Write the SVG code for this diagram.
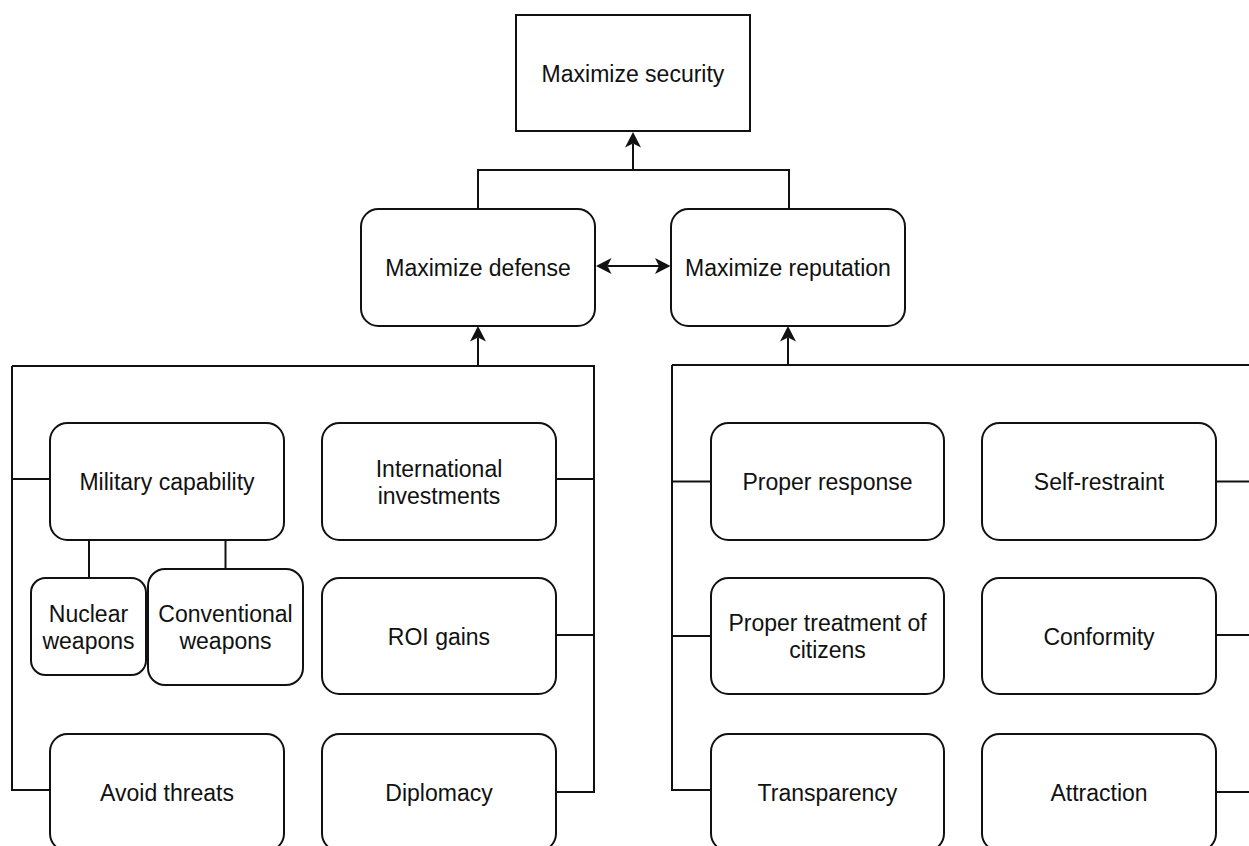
<svg xmlns="http://www.w3.org/2000/svg" width="1249" height="846" viewBox="0 0 1249 846">
  <style>
    .box { fill: #ffffff; stroke: #111111; stroke-width: 2; }
    .lbl { font-family: "Liberation Sans", Arial, Helvetica, sans-serif; font-size: 23px; fill: #111111; text-anchor: middle; }
    .wire { fill: none; stroke: #111111; stroke-width: 2; }
  </style>
  <defs>
    <!-- classic block arrowhead, anchored at its notch -->
    <marker id="arrow" viewBox="-17 -9 17 18" refX="-11.5" refY="0" markerWidth="17" markerHeight="18" markerUnits="userSpaceOnUse" orient="auto-start-reverse">
      <path d="M0,0 L-15.5,-8 L-11.5,0 L-15.5,8 Z" fill="#111111"/>
    </marker>
  </defs>

  <rect width="1249" height="846" fill="#ffffff"/>

  <!-- connectors -->
  <g id="connectors">
    <!-- defense / reputation up to security -->
    <path class="wire" d="M478,209 V170 H789 V209"/>
    <path class="wire" d="M633,170 V143.5" marker-end="url(#arrow)"/>
    <!-- defense <-> reputation -->
    <path class="wire" d="M607.5,266 H659" marker-start="url(#arrow)" marker-end="url(#arrow)"/>

    <!-- defense branch -->
    <path class="wire" d="M12,366 V790 H50"/>
    <path class="wire" d="M12,479 H50"/>
    <path class="wire" d="M12,366 H594 V792 H556"/>
    <path class="wire" d="M556,479 H594"/>
    <path class="wire" d="M556,635 H594"/>
    <path class="wire" d="M478,366 V337.5" marker-end="url(#arrow)"/>
    <path class="wire" d="M89,540 V578"/>
    <path class="wire" d="M225.5,540 V569"/>

    <!-- reputation branch -->
    <path class="wire" d="M672,365 V790 H711"/>
    <path class="wire" d="M672,481.5 H711"/>
    <path class="wire" d="M672,636 H711"/>
    <path class="wire" d="M672,365 H1256 V792 H1216"/>
    <path class="wire" d="M1216,481.5 H1256"/>
    <path class="wire" d="M1216,635 H1256"/>
    <path class="wire" d="M788,365 V337.5" marker-end="url(#arrow)"/>
  </g>

  <!-- nodes -->
  <g id="maximize-security">
    <rect class="box" x="516" y="15" width="234" height="116"/>
    <text class="lbl" x="633" y="81.5">Maximize security</text>
  </g>
  <g id="maximize-defense">
    <rect class="box" x="361" y="209" width="234" height="117" rx="17.5"/>
    <text class="lbl" x="478" y="276">Maximize defense</text>
  </g>
  <g id="maximize-reputation">
    <rect class="box" x="671" y="209" width="234" height="117" rx="17.5"/>
    <text class="lbl" x="788" y="276">Maximize reputation</text>
  </g>

  <g id="military-capability">
    <rect class="box" x="50" y="423" width="234" height="117" rx="17.5"/>
    <text class="lbl" x="167" y="490">Military capability</text>
  </g>
  <g id="international-investments">
    <rect class="box" x="322" y="423" width="234" height="117" rx="17.5"/>
    <text class="lbl" x="439" y="476.5">International</text>
    <text class="lbl" x="439" y="503.5">investments</text>
  </g>
  <g id="nuclear-weapons">
    <rect class="box" x="31" y="578" width="115" height="97" rx="14.5"/>
    <text class="lbl" x="88.5" y="621.5">Nuclear</text>
    <text class="lbl" x="88.5" y="648.5">weapons</text>
  </g>
  <g id="conventional-weapons">
    <rect class="box" x="148" y="569" width="155" height="116" rx="17"/>
    <text class="lbl" x="225.5" y="622">Conventional</text>
    <text class="lbl" x="225.5" y="649">weapons</text>
  </g>
  <g id="roi-gains">
    <rect class="box" x="322" y="578" width="234" height="116" rx="17.5"/>
    <text class="lbl" x="439" y="644.5">ROI gains</text>
  </g>
  <g id="avoid-threats">
    <rect class="box" x="50" y="734" width="234" height="117" rx="17.5"/>
    <text class="lbl" x="167" y="800.5">Avoid threats</text>
  </g>
  <g id="diplomacy">
    <rect class="box" x="322" y="734" width="234" height="117" rx="17.5"/>
    <text class="lbl" x="439" y="800.5">Diplomacy</text>
  </g>

  <g id="proper-response">
    <rect class="box" x="711" y="423" width="233" height="117" rx="17.5"/>
    <text class="lbl" x="827.5" y="490">Proper response</text>
  </g>
  <g id="self-restraint">
    <rect class="box" x="982" y="423" width="234" height="117" rx="17.5"/>
    <text class="lbl" x="1099" y="490">Self-restraint</text>
  </g>
  <g id="proper-treatment">
    <rect class="box" x="711" y="578" width="233" height="116" rx="17.5"/>
    <text class="lbl" x="827.5" y="630.7">Proper treatment of</text>
    <text class="lbl" x="827.5" y="657.7">citizens</text>
  </g>
  <g id="conformity">
    <rect class="box" x="982" y="578" width="234" height="116" rx="17.5"/>
    <text class="lbl" x="1099" y="644.5">Conformity</text>
  </g>
  <g id="transparency">
    <rect class="box" x="711" y="734" width="233" height="117" rx="17.5"/>
    <text class="lbl" x="827.5" y="800.5">Transparency</text>
  </g>
  <g id="attraction">
    <rect class="box" x="982" y="734" width="234" height="117" rx="17.5"/>
    <text class="lbl" x="1099" y="800.5">Attraction</text>
  </g>
</svg>
